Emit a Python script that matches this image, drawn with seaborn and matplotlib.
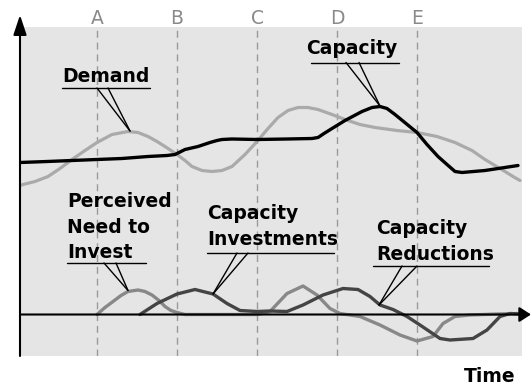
import matplotlib

matplotlib.use("Agg")
import matplotlib.pyplot as plt
import seaborn as sns

# Time axis: the phase markers A-E sit every 80 time units.
PHASE_LABELS = ["A", "B", "C", "D", "E"]
PHASE_TIMES = [80, 160, 240, 320, 400]

# Upper panel: demand and capacity levels.
demand_t = [3, 6, 18, 31, 43, 55, 68, 80, 95, 111, 121, 131, 140, 148, 160, 168,
            175, 185, 195, 205, 215, 228, 240, 251, 261, 271, 281, 291, 301, 315,
            328, 343, 358, 380, 400, 420, 438, 455, 468, 478, 488, 496, 503]
demand_v = [129, 130, 133, 138, 146, 155, 164, 172, 180, 183, 182, 178, 173, 168,
            160, 154, 148, 144, 143, 144, 148, 160, 173, 186, 197, 204, 207, 207,
            205, 200, 195, 190, 187, 184, 182, 178, 172, 164, 155, 149, 143, 138, 134]

capacity_t = [3, 30, 55, 80, 105, 131, 150, 158, 164, 168, 181, 193, 200, 205, 215,
              240, 270, 295, 301, 307, 315, 328, 345, 355, 363, 370, 378, 389, 400,
              410, 421, 430, 438, 445, 468, 501]
capacity_v = [152, 153, 154, 155, 156, 158, 159, 160, 163, 165, 168, 172, 174, 175,
              175.5, 175, 175.5, 176, 177, 181, 186, 194, 203, 207, 208, 206, 200,
              191, 182, 170, 158, 150, 143, 142, 144, 149]

# Lower panel: rates around zero.
need_t = [80, 88, 96, 104, 111, 121, 128, 135, 142, 148, 154, 160, 168, 200, 240,
          246, 253, 270, 286, 300, 313, 323, 343, 363, 383, 400, 416, 426, 438, 453,
          480, 503]
need_v = [0, 7, 13, 19, 23, 24.5, 23, 19.5, 14, 8, 4, 2, 0, 0, 0, 1, 3, 21, 28.5,
          19.5, 6, 1, -2, -10.5, -20.5, -26.5, -22, -9, -2, -0.5, 0.5, 1]

invest_t = [123, 140, 160, 178, 196, 210, 223, 240, 253, 270, 286, 306, 326, 341,
            353, 363, 376, 390, 403, 423, 433, 456, 470, 483, 493, 503]
invest_v = [0, 11, 20.5, 25, 20.5, 11, 4, 3, 3.5, 3, 9.5, 19.5, 26, 25, 18, 9.5, 5,
            -2, -10.5, -24, -25.5, -24, -15.5, -2, 1, 0.5]

sns.set_style("white", {"axes.facecolor": "#e5e5e5"})
plt.rcParams["font.family"] = ["DejaVu Sans"]

fig = plt.figure(figsize=(5.32, 3.86), dpi=100)
ax = fig.add_axes([20 / 532, 30 / 386, 502 / 532, 329 / 386])
ax.set_xlim(3, 505)
ax.set_ylim(-41.5, 287.5)
for side in ["left", "right", "top", "bottom"]:
    ax.spines[side].set_visible(False)
ax.set_xticks([])
ax.set_yticks([])

for label, t in zip(PHASE_LABELS, PHASE_TIMES):
    ax.axvline(t, color="#9a9a9a", lw=1.0, ls=(0, (5, 3.5)), zorder=1)
    ax.text(t, 290.5, label, ha="center", va="baseline", fontsize=13.5,
            color="#8a8a8a", clip_on=False)

sns.lineplot(x=demand_t, y=demand_v, color="#aaaaaa", lw=2.3, ax=ax, zorder=3)
sns.lineplot(x=capacity_t, y=capacity_v, color="black", lw=2.4, ax=ax, zorder=4)
sns.lineplot(x=need_t, y=need_v, color="#888888", lw=2.4, ax=ax, zorder=3)
sns.lineplot(x=invest_t, y=invest_v, color="#444444", lw=2.4, ax=ax, zorder=4)

# Axis arrows
ax.annotate("", xy=(3, 299.5), xytext=(3, -41.5),
            arrowprops=dict(arrowstyle="-|>,head_width=0.4,head_length=1.2",
                            lw=1.5, color="black", shrinkA=0, shrinkB=0),
            annotation_clip=False, zorder=6)
ax.annotate("", xy=(514, 0), xytext=(3, 0),
            arrowprops=dict(arrowstyle="-|>,head_width=0.45,head_length=0.7",
                            lw=1.5, color="black", shrinkA=0, shrinkB=0),
            annotation_clip=False, zorder=6)


def callout(text, tx, ty, line_y, x0, x1, feet, tip):
    # ty is the baseline of the last text line, sitting just above the underline
    ax.text(tx, ty, text, ha="left", va="baseline", fontsize=13.5,
            fontweight="bold", color="black", linespacing=1.45, zorder=7)
    ax.plot([x0, x1], [line_y, line_y], color="black", lw=1.0, zorder=7)
    for fx in feet:
        ax.plot([fx, tip[0]], [line_y, tip[1]], color="black", lw=1.0, zorder=7)


callout("Demand", 45, 233, 226.5, 45, 133, [80, 91], (113, 183.5))
callout("Capacity", 289, 260.5, 252, 294, 382, [329, 342], (363, 208.5))
callout("Perceived\nNeed to\nInvest", 50, 56, 51.5, 50, 129, [87, 99], (111, 24))
callout("Capacity\nInvestments", 190, 69.5, 61.5, 190, 317, [220, 231], (196, 20.5))
callout("Capacity\nReductions", 359, 55, 48.5, 356, 472, [385, 400], (362, 9.5))

ax.text(473, -67.5, "Time", ha="center", va="baseline", fontsize=13.5,
        fontweight="bold", color="black", clip_on=False)

fig.savefig("out.png", dpi=100)
